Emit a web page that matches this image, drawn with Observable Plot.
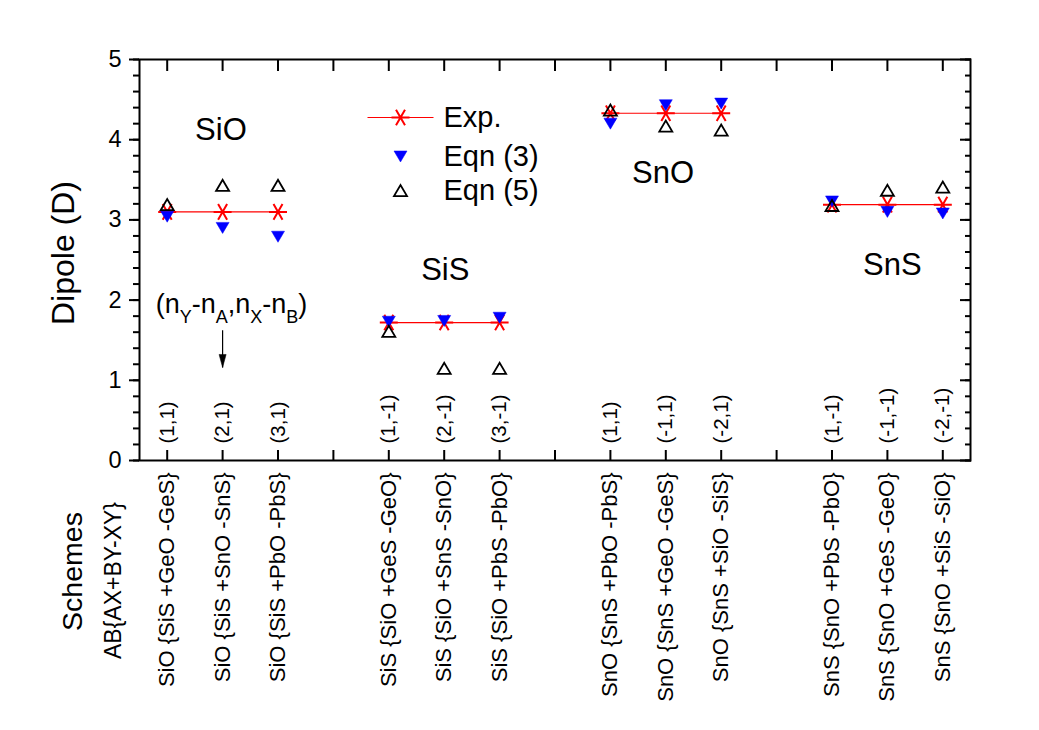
<!DOCTYPE html>
<html>
<head>
<meta charset="utf-8">
<script src="https://cdn.jsdelivr.net/npm/d3@7"></script>
<script src="https://cdn.jsdelivr.net/npm/@observablehq/plot@0.6"></script>
<style>
  html, body { margin: 0; padding: 0; background: #fff; }
  #chart { width: 1039px; height: 730px; }
</style>
</head>
<body>
<div id="chart"></div>
<script>
// ---- data ----
const positions = [1, 2, 3, 5, 6, 7, 9, 10, 11, 13, 14, 15];
const molecules = ["SiO", "SiO", "SiO", "SiS", "SiS", "SiS", "SnO", "SnO", "SnO", "SnS", "SnS", "SnS"];
const pairLabels = ["(1,1)", "(2,1)", "(3,1)", "(1,-1)", "(2,-1)", "(3,-1)", "(1,1)", "(-1,1)", "(-2,1)", "(1,-1)", "(-1,-1)", "(-2,-1)"];
const schemeLabels = [
  "SiO {SiS +GeO -GeS}", "SiO {SiS +SnO -SnS}", "SiO {SiS +PbO -PbS}",
  "SiS {SiO +GeS -GeO}", "SiS {SiO +SnS -SnO}", "SiS {SiO +PbS -PbO}",
  "SnO {SnS +PbO -PbS}", "SnO {SnS +GeO -GeS}", "SnO {SnS +SiO -SiS}",
  "SnS {SnO +PbS -PbO}", "SnS {SnO +GeS -GeO}", "SnS {SnO +SiS -SiO}"
];
const expValues  = [3.10, 3.10, 3.10, 1.72, 1.72, 1.72, 4.33, 4.33, 4.33, 3.19, 3.19, 3.19];
const eqn3Values = [3.04, 2.90, 2.79, 1.73, 1.74, 1.78, 4.20, 4.43, 4.45, 3.23, 3.10, 3.08];
const eqn5Values = [3.19, 3.43, 3.43, 1.61, 1.15, 1.15, 4.37, 4.17, 4.12, 3.18, 3.37, 3.41];

const yMajorTicks = [0, 1, 2, 3, 4, 5];
const yMinorTicks = d3.range(0, 5.0001, 0.2);
const xTicks = d3.range(1, 16);

const legendLabels = ["Exp.", "Eqn (3)", "Eqn (5)"];
const groupNames = ["SiO", "SiS", "SnO", "SnS"];
const groupX = [1.97, 6.02, 9.95, 14.09];
const groupY = [4.12, 2.37, 3.58, 2.44];
const noteText = ["(nY-nA,nX-nB)"];
const noteX = [2.16];
const noteY = [1.95];
const arrowX = [2];
const arrowFromY = [1.625];
const arrowToY = [1.16];

// ---- table built from the arrays ----
const rows = positions.map((p, i) => ({
  pos: p, group: molecules[i], pair: pairLabels[i], scheme: schemeLabels[i],
  exp: expValues[i], eqn3: eqn3Values[i], eqn5: eqn5Values[i]
}));
const groups = groupNames.map((n, i) => ({name: n, x: groupX[i], y: groupY[i]}));
const notes = noteText.map((t, i) => ({t, x: noteX[i], y: noteY[i]}));
const arrows = arrowX.map((x, i) => ({x, y1: arrowFromY[i], y2: arrowToY[i]}));

// ---- custom symbols (size = r*r*PI) ----
const sym = (fn) => ({draw(ctx, size) { fn(ctx, Math.sqrt(size / Math.PI)); }});
const asterisk = sym((c, r) => {
  const a = Math.PI / 3, cx = r * Math.cos(a), sy = r * Math.sin(a);
  c.moveTo(-r, 0); c.lineTo(r, 0);
  c.moveTo(-cx, -sy); c.lineTo(cx, sy);
  c.moveTo(-cx, sy); c.lineTo(cx, -sy);
});
const triDown = sym((c, r) => {
  const h = r * 1.7;
  c.moveTo(-r, -h / 2); c.lineTo(r, -h / 2); c.lineTo(0, h / 2); c.closePath();
});
const triUp = sym((c, r) => {
  const h = r * 1.7;
  c.moveTo(-r, h / 2); c.lineTo(r, h / 2); c.lineTo(0, -h / 2); c.closePath();
});
const hline = sym((c, r) => { c.moveTo(-r, 0); c.lineTo(r, 0); });
const arrowHead = sym((c, r) => {
  c.moveTo(0, 0); c.lineTo(-r * 0.27, -r); c.lineTo(r * 0.27, -r); c.closePath();
});

const RED = "#ff0000", BLUE = "#0000ff";

const chart = Plot.plot({
  width: 1039,
  height: 730,
  marginLeft: 139,
  marginRight: 69,
  marginTop: 59,
  marginBottom: 270,
  x: {domain: [0.5, 15.5]},
  y: {domain: [0, 5]},
  style: {fontFamily: "'Liberation Sans', Arial, sans-serif", background: "#fff", color: "#000"},
  marks: [
    // axes
    Plot.axisY({anchor: "left", ticks: yMinorTicks, tickSize: 6, fill: "none", strokeWidth: 2}),
    Plot.axisY({anchor: "left", ticks: yMajorTicks, tickFormat: "d", tickSize: 10, tickPadding: 8, fontSize: 23.5, label: null, strokeWidth: 2}),
    Plot.axisY({anchor: "right", ticks: yMinorTicks, tickSize: -6, fill: "none", strokeWidth: 2}),
    Plot.axisY({anchor: "right", ticks: yMajorTicks, tickSize: -11, fill: "none", strokeWidth: 2}),
    Plot.axisX({anchor: "top", ticks: xTicks, tickSize: -11, fill: "none", strokeWidth: 2}),
    Plot.axisX({anchor: "bottom", ticks: xTicks, tickSize: -10, fill: "none", strokeWidth: 2}),
    Plot.frame({stroke: "#000", strokeWidth: 2}),

    // axis title
    Plot.text(["Dipole (D)"], {frameAnchor: "left", dx: -76, dy: -7, rotate: -90, textAnchor: "middle", lineAnchor: "middle", fontSize: 32, fill: "#000"}),

    // bottom scheme labels
    Plot.text(rows, {x: "pos", text: "scheme", frameAnchor: "bottom", dy: 12, rotate: -90, textAnchor: "end", lineAnchor: "middle", fontSize: 22, fill: "#000"}),
    Plot.text(["Schemes"], {frameAnchor: "bottom-left", dx: -67, dy: 111, rotate: -90, textAnchor: "middle", lineAnchor: "middle", fontSize: 28.5, fill: "#000"}),
    Plot.text(["AB{AX+BY-XY}"], {frameAnchor: "bottom-left", dx: -26, dy: 120, rotate: -90, textAnchor: "middle", lineAnchor: "middle", fontSize: 23, fill: "#000"}),

    // pair labels inside the frame
    Plot.text(rows, {x: "pos", text: "pair", frameAnchor: "bottom", dy: -17, rotate: -90, textAnchor: "start", lineAnchor: "middle", fontSize: 20.5, fill: "#000"}),

    // data
    Plot.line(rows, {x: "pos", y: "exp", z: "group", stroke: RED, strokeWidth: 1.2}),
    Plot.dot(rows, {x: "pos", y: "exp", symbol: asterisk, r: 9, stroke: RED, strokeWidth: 2, fill: "none"}),
    Plot.dot(rows, {x: "pos", y: "eqn3", symbol: triDown, r: 6.5, fill: BLUE, stroke: BLUE, strokeWidth: 0.5}),
    Plot.dot(rows, {x: "pos", y: "eqn5", symbol: triUp, r: 6.5, fill: "none", stroke: "#000", strokeWidth: 1.8}),

    // group labels
    Plot.text(groups, {x: "x", y: "y", text: "name", fontSize: 31, fill: "#000"}),

    // annotation and arrow
    Plot.text(notes, {x: "x", y: "y", text: "t", fontSize: 27, fill: "#000"}),
    Plot.link(arrows, {x1: "x", x2: "x", y1: "y1", y2: "y2", stroke: "#000", strokeWidth: 1.2}),
    Plot.dot(arrows, {x: "x", y: "y2", symbol: arrowHead, r: 13, fill: "#000", stroke: "#000", strokeWidth: 0.5}),

    // legend
    Plot.dot([legendLabels[0]], {frameAnchor: "top-left", dx: 261, dy: 58, symbol: hline, r: 33, stroke: RED, strokeWidth: 1.2, fill: "none"}),
    Plot.dot([legendLabels[0]], {frameAnchor: "top-left", dx: 261, dy: 58, symbol: asterisk, r: 9, stroke: RED, strokeWidth: 2, fill: "none"}),
    Plot.dot([legendLabels[1]], {frameAnchor: "top-left", dx: 261, dy: 97, symbol: triDown, r: 6.5, fill: BLUE, stroke: BLUE, strokeWidth: 0.5}),
    Plot.dot([legendLabels[2]], {frameAnchor: "top-left", dx: 261, dy: 131, symbol: triUp, r: 6.5, fill: "none", stroke: "#000", strokeWidth: 1.8}),
    Plot.text([legendLabels[0]], {frameAnchor: "top-left", dx: 304, dy: 58, textAnchor: "start", lineAnchor: "middle", fontSize: 29, fill: "#000"}),
    Plot.text([legendLabels[1]], {frameAnchor: "top-left", dx: 304, dy: 97, textAnchor: "start", lineAnchor: "middle", fontSize: 29, fill: "#000"}),
    Plot.text([legendLabels[2]], {frameAnchor: "top-left", dx: 304, dy: 131, textAnchor: "start", lineAnchor: "middle", fontSize: 29, fill: "#000"})
  ]
});

document.getElementById("chart").appendChild(chart);

// subscripts in the annotation
d3.select(chart).selectAll("text").each(function() {
  if (this.textContent !== noteText[0]) return;
  const t = d3.select(this);
  t.text(null);
  const parts = [["(n", false], ["Y", true], ["-n", false], ["A", true], [",n", false], ["X", true], ["-n", false], ["B", true], [")", false]];
  parts.forEach(([s, sub]) => {
    const ts = t.append("tspan").text(s);
    if (sub) ts.attr("font-size", 18).attr("dy", 10);
    else if (s !== "(n") ts.attr("dy", -10);
  });
});
</script>
</body>
</html>
